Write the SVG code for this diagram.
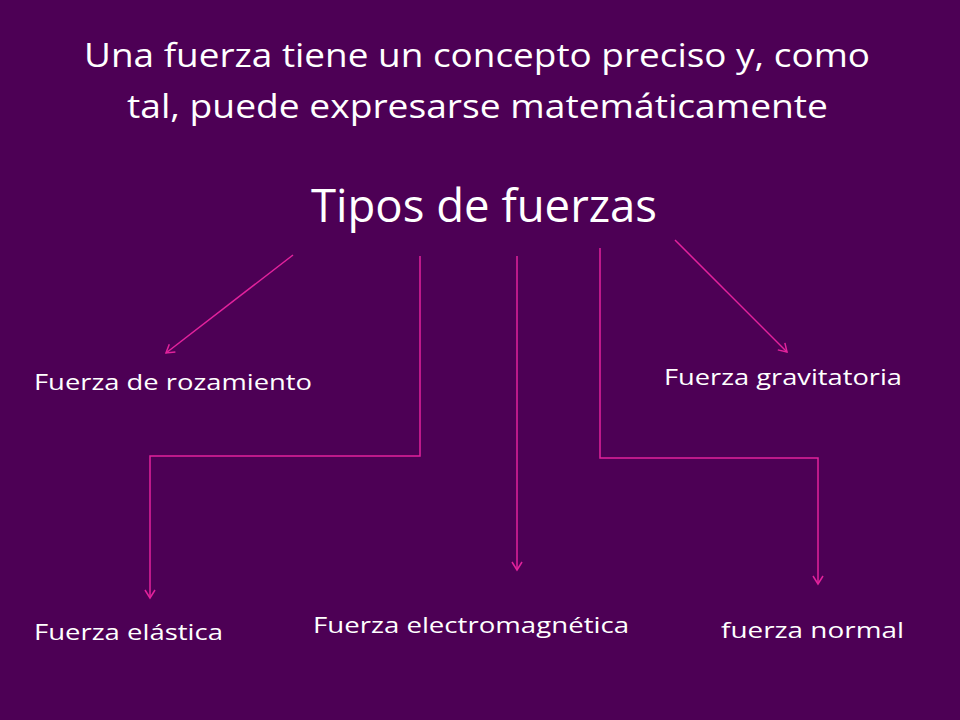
<svg xmlns="http://www.w3.org/2000/svg" width="960" height="720" viewBox="0 0 960 720">
<style>
text{font-family:"Open Sans","Liberation Sans",sans-serif;fill:#fff}
.t{font-size:32px}
.h{font-size:46px}
.l{font-size:21px}
.c{fill:none;stroke:#e2229c;stroke-width:1.5;marker-end:url(#a)}
</style>
<defs><marker id="a" markerWidth="12" markerHeight="12" refX="10" refY="6" orient="auto" markerUnits="userSpaceOnUse"><path d="M2,1 L10,6 L2,11" fill="none" stroke="#e2229c" stroke-width="1.5"/></marker></defs>
<rect width="960" height="720" fill="#4d0055"/>
<g id="title"><text class="t" x="84" y="67" textLength="786" lengthAdjust="spacingAndGlyphs">Una fuerza tiene un concepto preciso y, como</text><text class="t" x="127" y="118" textLength="701" lengthAdjust="spacingAndGlyphs">tal, puede expresarse matemáticamente</text></g>
<g id="tipos"><text class="h" x="311" y="222" textLength="346" lengthAdjust="spacingAndGlyphs">Tipos de fuerzas</text></g>
<g id="rozamiento"><text class="l" x="34" y="390" textLength="278" lengthAdjust="spacingAndGlyphs">Fuerza de rozamiento</text></g>
<g id="gravitatoria"><text class="l" x="664" y="385" textLength="238" lengthAdjust="spacingAndGlyphs">Fuerza gravitatoria</text></g>
<g id="elastica"><text class="l" x="34" y="640" textLength="189" lengthAdjust="spacingAndGlyphs">Fuerza elástica</text></g>
<g id="electromagnetica"><text class="l" x="313" y="633" textLength="316" lengthAdjust="spacingAndGlyphs">Fuerza electromagnética</text></g>
<g id="normal"><text class="l" x="721" y="638" textLength="183" lengthAdjust="spacingAndGlyphs">fuerza normal</text></g>
<g id="connectors">
<path class="c" d="M293,255 L166,353"/>
<path class="c" d="M420,256 V456 H150 V598"/>
<path class="c" d="M517,256 V570"/>
<path class="c" d="M600,248 V458 H818 V584"/>
<path class="c" d="M675,240 L787,352"/>
</g>
</svg>
